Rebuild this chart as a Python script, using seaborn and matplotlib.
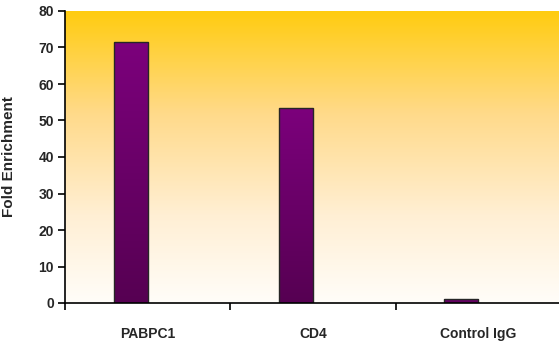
import numpy as np
import pandas as pd
import matplotlib
matplotlib.use("Agg")
import matplotlib.pyplot as plt
from matplotlib.colors import LinearSegmentedColormap
import seaborn as sns

# Data
categories = ["PABPC1", "CD4", "Control IgG"]
fold_enrichment = [71.5, 53.5, 1.1]
series = ["ChIP", "blank"]
y_ticks = [0, 10, 20, 30, 40, 50, 60, 70, 80]

df = pd.DataFrame({
    "target": categories + categories,
    "value": fold_enrichment + [np.nan] * len(categories),
    "series": [series[0]] * 3 + [series[1]] * 3,
})

sns.set_theme(style="white")
plt.rcParams["font.family"] = ["Liberation Sans", "DejaVu Sans"]
plt.rcParams["font.weight"] = "bold"

fig = plt.figure(figsize=(5.59, 3.43), dpi=100)
ax = fig.add_axes([65 / 559, 40 / 343, 496 / 559, 292 / 343])

sns.barplot(data=df, x="target", y="value", hue="series", hue_order=series,
            order=categories, width=0.412, dodge=True, legend=False,
            color="#7f007f", edgecolor="#262626", linewidth=1.0,
            err_kws={"linewidth": 0}, ax=ax)

ax.set_xlim(-0.5, 2.5)
ax.set_ylim(0, 80)

# Gold-to-cream background gradient
bg = LinearSegmentedColormap.from_list(
    "bg", [(0.0, "#fffdf9"), (0.3, "#ffefd4"), (0.65, "#ffda8a"), (1.0, "#ffcc10")])
grad = np.linspace(0, 1, 256).reshape(-1, 1)
ax.imshow(grad, cmap=bg, origin="lower", aspect="auto",
          extent=[-0.5, 2.5, 0, 80], zorder=0)

# Purple gradient inside each bar
bar_cmap = LinearSegmentedColormap.from_list("bar", ["#560052", "#7c007c"])
for patch in ax.patches:
    h = patch.get_height()
    if not np.isfinite(h) or h <= 0:
        continue
    x0 = patch.get_x()
    w = patch.get_width()
    im = ax.imshow(grad, cmap=bar_cmap, origin="lower", aspect="auto",
                   extent=[x0, x0 + w, 0, h], zorder=patch.get_zorder() + 0.1)
    im.set_clip_path(patch)
    patch.set_facecolor("none")
    patch.set_zorder(patch.get_zorder() + 0.2)
ax.set_xlim(-0.5, 2.5)
ax.set_ylim(0, 80)

for s in ["top", "right"]:
    ax.spines[s].set_visible(False)
for s in ["left", "bottom"]:
    ax.spines[s].set_color("black")
    ax.spines[s].set_linewidth(1.2)

ax.set_yticks(y_ticks)
ax.set_yticklabels([str(t) for t in y_ticks], fontsize=10, fontweight="bold")
ax.tick_params(axis="y", direction="out", length=5, width=1.2, color="black",
               left=True, pad=3)

ax.set_xticks(range(len(categories)))
ax.set_xticklabels(categories, fontsize=10, fontweight="bold")
ax.set_xticks([-0.5, 0.5, 1.5, 2.5], minor=True)
ax.tick_params(axis="x", which="major", length=0, pad=17)
ax.tick_params(axis="x", which="minor", direction="out", length=5, width=1.2,
               color="black", bottom=True)

ax.set_xlabel("")
ax.set_ylabel("Fold Enrichment", fontsize=11, fontweight="bold", labelpad=16)

fig.savefig("out.png", dpi=100)
